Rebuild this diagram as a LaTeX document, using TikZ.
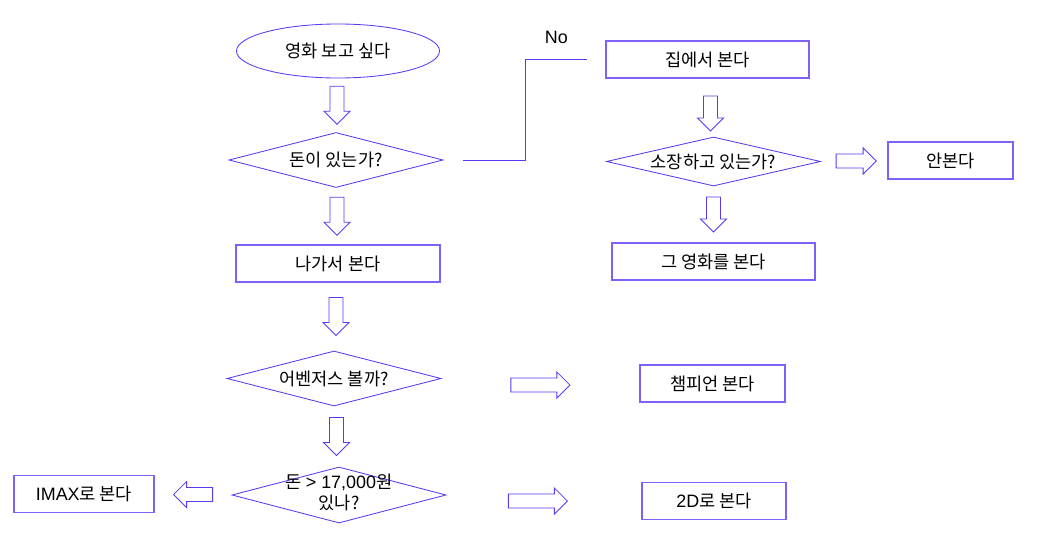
\documentclass[tikz,border=0pt]{standalone}
\usepackage{fontspec}
\setmainfont{Noto Sans CJK KR}
\newfontfamily\latin{Liberation Sans}[Scale=1.02]
\usetikzlibrary{shapes.geometric,calc}
\definecolor{flowblue}{RGB}{92,56,245}
\definecolor{boxblue}{RGB}{128,96,250}

\begin{document}
\begin{tikzpicture}[
  x=0.025cm, y=-0.025cm,
  every node/.style={font=\fontsize{12.5}{15}\selectfont},
  terminal/.style={ellipse, draw=flowblue, line width=0.6pt, inner sep=0pt,
    minimum width=5.075cm, minimum height=1.35cm},
  process/.style={rectangle, draw=boxblue, line width=0.9pt,
    minimum width=#1, minimum height=0.92cm},
  decision/.style={diamond, draw=flowblue, line width=0.6pt, inner sep=0pt,
    aspect=3.9, minimum width=5.35cm, minimum height=#1},
  decision/.default=1.375cm,
  flow line/.style={draw=flowblue, line width=0.6pt},
  pics/block arrow/.style={code={
    \draw[flow line, line join=miter] (-#1/2,-7) -- (#1/2-13,-7) -- (#1/2-13,-13)
      -- (#1/2,0) -- (#1/2-13,13) -- (#1/2-13,7) -- (-#1/2,7) -- cycle;
  }},
  ]
  \useasboundingbox (0,0) rectangle (1037,540);

  % left column
  \node[terminal] (start) at (338,51) {영화 보고 싶다};
  \node[decision] (money) at (336,160) {돈이 있는가?};
  \node[process=5.1cm] (out) at (338,263.5) {나가서 본다};
  \node[decision] (avengers) at (334,378.5) {어벤저스 볼까?};
  \node[decision=1.4cm] (price) at (339,495)
    {\makebox[0pt]{\begin{tabular}{@{}c@{}}돈 {\latin > 17,000}원\\있나?\end{tabular}}};
  \node[process=3.5cm] (imax) at (84,494) {{\latin IMAX}로 본다};

  % right column
  \node[process=5.075cm] (home) at (707.5,59.5) {집에서 본다};
  \node[decision=1.225cm] (own) at (713.5,161.5) {소장하고 있는가?};
  \node[process=3.125cm] (skip) at (950.5,160.5) {안본다};
  \node[process=5.075cm] (watch) at (713.5,261.5) {그 영화를 본다};
  \node[process=3.625cm] (champion) at (712.5,383.5) {챔피언 본다};
  \node[process=3.6cm] (twod) at (714,501) {{\latin 2D}로 본다};

  % no money
  \draw[flow line] ($(money.east)+(20,0)$) -- ++(62,0)
    |- node[pos=0.75, above=0.38cm, inner sep=0pt] {\latin No} ($(home.west)+(-18,0)$);

  % block arrows
  \pic[rotate=-90] at ($(start.south)!.5!(money.north)$) {block arrow=38};
  \pic[rotate=-90] at ($(money.south)!.5!(out.north)$) {block arrow=38};
  \pic[rotate=-90] at ($(out.south)!.5!(avengers.north)$) {block arrow=38};
  \pic[rotate=-90] at ($(avengers.south)!.5!(price.north)$) {block arrow=38};
  \pic[rotate=-90] at ($(home.south)!.5!(own.north)+(0,6)$) {block arrow=35};
  \pic[rotate=-90] at ($(own.south)!.5!(watch.north)$) {block arrow=35};
  \pic at ($(own.east)!.5!(skip.west)+(2,0)$) {block arrow=40};
  \pic at ($(avengers.east)!.5!(champion.west)+(0,4)$) {block arrow=59};
  \pic at ($(price.east)!.5!(twod.west)+(-6,3)$) {block arrow=59};
  \pic[rotate=180] at ($(imax.east)!.5!(price.west)$) {block arrow=39};
\end{tikzpicture}
\end{document}
